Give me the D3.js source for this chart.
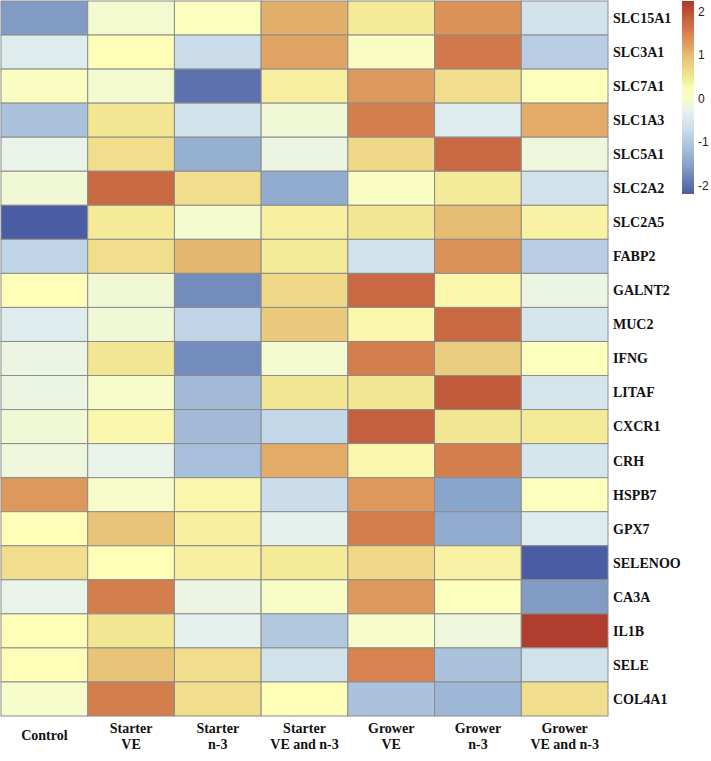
<!DOCTYPE html>
<html><head><meta charset="utf-8">
<script src="https://cdn.jsdelivr.net/npm/d3@7"></script>
<style>body{margin:0;background:#fff}svg{display:block}
.lab{font-family:"Liberation Serif","Tinos","Times New Roman","DejaVu Serif",serif;font-weight:bold;font-size:14px;fill:#111}
</style>
</head><body>
<svg id="c" width="711" height="761"></svg>
<script>
const columns = ["Control","Starter\nVE","Starter\nn-3","Starter\nVE and n-3","Grower\nVE","Grower\nn-3","Grower\nVE and n-3"];
const genes = ["SLC15A1","SLC3A1","SLC7A1","SLC1A3","SLC5A1","SLC2A2","SLC2A5","FABP2","GALNT2","MUC2","IFNG","LITAF","CXCR1","CRH","HSPB7","GPX7","SELENOO","CA3A","IL1B","SELE","COL4A1"];
const values = [
 [-1.6, -0.05, 0.15, 1.1, 0.45, 1.35, -0.6],
 [-0.4, 0.2, -0.7, 1.2, 0.1, 1.6, -0.95],
 [0.1, -0.05, -2.0, 0.4, 1.3, 0.6, 0.15],
 [-1.1, 0.5, -0.6, -0.1, 1.55, -0.4, 1.15],
 [-0.25, 0.6, -1.35, -0.2, 0.65, 1.75, -0.15],
 [-0.1, 1.75, 0.6, -1.4, 0.1, 0.45, -0.6],
 [-2.2, 0.45, -0.05, 0.4, 0.5, 1.0, 0.35],
 [-0.85, 0.6, 1.05, 0.45, -0.6, 1.35, -0.95],
 [0.2, -0.1, -1.75, 0.65, 1.75, 0.3, -0.2],
 [-0.4, -0.1, -0.85, 0.85, 0.3, 1.75, -0.55],
 [-0.2, 0.5, -1.75, -0.05, 1.55, 0.8, 0.15],
 [-0.2, 0.0, -1.2, 0.5, 0.5, 1.9, -0.55],
 [-0.1, 0.3, -1.2, -0.8, 1.85, 0.5, 0.45],
 [-0.15, -0.25, -1.15, 1.15, 0.3, 1.55, -0.55],
 [1.3, 0.0, 0.3, -0.7, 1.3, -1.5, 0.15],
 [0.2, 0.9, 0.4, -0.3, 1.55, -1.4, -0.4],
 [0.6, 0.2, 0.4, 0.45, 0.65, 0.35, -2.2],
 [-0.25, 1.55, -0.2, 0.05, 1.3, 0.15, -1.6],
 [0.2, 0.5, -0.3, -1.0, 0.0, -0.15, 2.2],
 [0.2, 0.9, 0.6, -0.6, 1.5, -1.1, -0.6],
 [0.0, 1.55, 0.6, 0.2, -1.1, -1.25, 0.6]
];
const legendTicks = [2, 1, 0, -1, -2];
const colorStops = [-2.2, -1.5, -0.8, -0.3, 0, 0.2, 0.5, 1.0, 1.5, 2.25];
const colorHex = ["#4a5ca3","#8aa5cb","#c4d8e9","#e6f1ee","#f6fcca","#fefeb8","#f3e692","#e6bc72","#d7824f","#ae382c"];

const color = d3.scaleLinear().domain(colorStops).range(colorHex).interpolate(d3.interpolateRgb).clamp(true);

const svg = d3.select("#c");
const x = d3.scaleBand().domain(d3.range(columns.length)).range([1, 608]);
const y = d3.scaleBand().domain(d3.range(genes.length)).range([1, 716]);

const cells = [];
values.forEach((row, i) => row.forEach((v, j) => cells.push({i, j, v})));
svg.append("g").selectAll("rect").data(cells).join("rect")
  .attr("x", d => x(d.j)).attr("y", d => y(d.i))
  .attr("width", x.bandwidth()).attr("height", y.bandwidth())
  .attr("fill", d => color(d.v))
  .attr("stroke", "#8c8c8c").attr("stroke-width", 1);

// row labels
svg.append("g").selectAll("text").data(genes).join("text")
  .attr("class", "lab")
  .attr("x", 613).attr("y", (d, i) => y(i) + y.bandwidth()/2)
  .attr("dy", "0.35em")
  .text(d => d);

// column labels
const cl = svg.append("g").selectAll("text").data(columns).join("text")
  .attr("class", "lab").attr("text-anchor", "middle");
cl.each(function(d, j) {
  const lines = d.split("\n");
  const cx = x(j) + x.bandwidth()/2;
  const t = d3.select(this);
  if (lines.length === 1) {
    t.append("tspan").attr("x", cx).attr("y", 740).text(lines[0]);
  } else {
    lines.forEach((ln, k) => t.append("tspan").attr("x", cx).attr("y", 733 + k*16).text(ln));
  }
});

// legend
const ly = d3.scaleLinear().domain([-2.2, 2.25]).range([194, 1]);
const defs = svg.append("defs");
const grad = defs.append("linearGradient").attr("id", "lg").attr("x1", 0).attr("y1", 1).attr("x2", 0).attr("y2", 0);
d3.range(0, 1.0001, 0.02).forEach(t => {
  const v = -2.2 + t * 4.45;
  grad.append("stop").attr("offset", t).attr("stop-color", color(v));
});
svg.append("rect").attr("x", 682).attr("y", 1).attr("width", 12).attr("height", 193).attr("fill", "url(#lg)");
svg.append("g").selectAll("text").data(legendTicks).join("text")
  .attr("x", 698).attr("y", d => ly(d)).attr("dy", "0.35em")
  .attr("font-family", "'Liberation Sans', Arial, sans-serif")
  .attr("font-size", 12).attr("fill", "#222")
  .text(d => d);
</script>
</body></html>
